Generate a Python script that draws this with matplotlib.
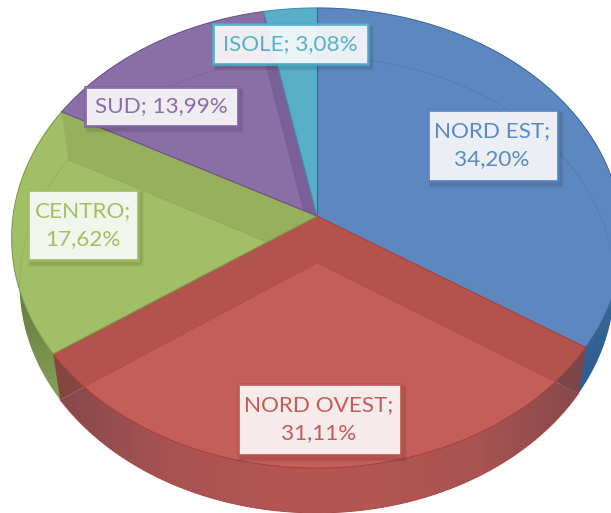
import numpy as np
import matplotlib
matplotlib.use("Agg")
import matplotlib.pyplot as plt
from matplotlib.patches import Polygon, Rectangle
from matplotlib.colors import LinearSegmentedColormap

# dati del grafico
categories = ["NORD EST", "NORD OVEST", "CENTRO", "SUD", "ISOLE"]
values = [34.20, 31.11, 17.62, 13.99, 3.08]

# colori
text_col = ["#4f81bd", "#c0504d", "#9bbb59", "#8064a2", "#4bacc6"]
light_col = ["#5d88bf", "#c35e5a", "#a1bf67", "#8a6ea6", "#59aec8"]
band_col = ["#5c87bd", "#b2534e", "#97b05c", "#7a6099", "#57adc6"]
edge_col = ["#3a6699", "#a8403c", "#7d9a45", "#6a5088", "#3f8ea6"]

plt.rcParams["font.family"] = ["Lato", "DejaVu Sans"]

W, H = 611, 513
fig = plt.figure(figsize=(W / 100, H / 100), dpi=100)
ax = fig.add_axes([0, 0, 1, 1])

K = 0.0956  # prospettiva


def project(theta, cy, a, b):
    # angolo in senso orario dall'alto -> pixel
    x, y = np.sin(theta), np.cos(theta)
    d = 1 + K * y
    return np.column_stack([317 + a * x / d, cy - b * y / d])


def top(theta):
    return project(np.asarray(theta, dtype=float), 216, 304, 228)


def bottom(theta):
    return project(np.asarray(theta, dtype=float), 263, 296, 226)


limits = np.cumsum([0] + values) / 100 * 2 * np.pi
apex_top = np.array([[317, 216]])
apex_bot = np.array([[317, 263]])


def gradient(patch, colors, extent, horizontal=True):
    cmap = LinearSegmentedColormap.from_list("g", colors)
    g = np.linspace(0, 1, 256)
    g = g[None, :] if horizontal else g[:, None]
    im = ax.imshow(g, cmap=cmap, extent=extent, aspect="auto", zorder=patch.get_zorder())
    im.set_clip_path(patch)


# pareti: disco inferiore
wall_grad = [
    (["#3a6a9c", "#2c5a8a"], (560, 620, 420, 250), False),
    (["#84484a", "#a85252", "#b25654", "#b25654", "#a85252", "#84484a"], (55, 590, 520, 340), True),
    (["#8aa658", "#4f6338"], (10, 80, 230, 410), False),
]
for i, (cols, ext, horiz) in enumerate(wall_grad):
    t = np.linspace(limits[i], limits[i + 1], 200)
    pts = np.vstack([apex_bot, bottom(t)])
    p = Polygon(pts, closed=True, facecolor="none", edgecolor="none", zorder=1)
    ax.add_patch(p)
    gradient(p, cols, ext, horiz)

# bordo esterno della parete rossa
t = np.linspace(limits[1], limits[2], 200)
ax.plot(*bottom(t).T, color="#a84a48", lw=0.7, zorder=1.5)

# angoli scuri del rosso, ai due estremi della parete
for a, col in zip((limits[1], limits[2]), ("#7c4648", "#84463f")):
    tr = top([a])[0]
    br = bottom([a])[0]
    mid = apex_bot[0] + (br - apex_bot[0]) * 0.905
    ax.add_patch(Polygon([tr, br, mid], closed=True, facecolor=col, edgecolor="none", zorder=1.8))

# facce superiori
for i in range(len(values)):
    t = np.linspace(limits[i], limits[i + 1], 200)
    rim = top(t)
    face = Polygon(np.vstack([apex_top, rim]), closed=True, facecolor=band_col[i],
                   edgecolor="none", zorder=2)
    ax.add_patch(face)
    # zona chiara, tagliata sulla faccia
    inner = np.vstack([apex_bot, bottom(t[:1]), rim, bottom(t[-1:])])
    lp = Polygon(inner, closed=True, facecolor=light_col[i], edgecolor="none", zorder=3)
    ax.add_patch(lp)
    lp.set_clip_path(face)
    # arco lontano del disco inferiore, appena visibile
    ln, = ax.plot(*bottom(t).T, color=edge_col[i], lw=0.7, alpha=0.3, zorder=4)
    ln.set_clip_path(face)
    # spigoli interni
    for a in (limits[i], limits[i + 1]):
        ln, = ax.plot(*np.vstack([apex_bot, bottom([a])]).T, color=edge_col[i], lw=0.7, alpha=0.35, zorder=4)
        ln.set_clip_path(face)
    ax.plot(*rim.T, color=edge_col[i], lw=0.7, zorder=5)

# linee di separazione sulla faccia
for i in range(len(values)):
    rim = top([limits[i]])
    ax.plot([317, rim[0, 0]], [216, rim[0, 1]], color=edge_col[i], lw=0.8, zorder=6)

# etichette
boxes = [
    (428, 110, 130, 71, 492, True),
    (238, 384, 163, 71, 319, True),
    (28, 190, 110, 70, 83, True),
    (85, 87, 153, 39, 161, False),
    (213, 24, 155, 40, 290, False),
]
for i, (x, y, w, h, cx, wrap) in enumerate(boxes):
    # ombra morbida
    for grow, al in ((6, 0.03), (4, 0.04), (2, 0.05)):
        ax.add_patch(Rectangle((x + 3 - grow / 2, y + 4 - grow / 2), w + grow, h + grow,
                               facecolor="#000000", alpha=al, edgecolor="none", zorder=7))
    ax.add_patch(Rectangle((x, y), w, h, facecolor="white", alpha=0.89, edgecolor="none", zorder=8))
    ax.add_patch(Rectangle((x, y), w, h, facecolor="none", edgecolor=text_col[i],
                           lw=2.0, alpha=0.9, zorder=9))
    val = f"{values[i]:.2f}%".replace(".", ",")
    sep = ";\n" if wrap else "; "
    ax.text(cx, y + h / 2, categories[i] + sep + val, color=text_col[i], fontsize=16.2, alpha=0.92,
            ha="center", va="center", ma="center", linespacing=1.5, zorder=10)

ax.set_xlim(0, W)
ax.set_ylim(H, 0)
ax.axis("off")
fig.savefig("out.png", dpi=100, facecolor="white")
